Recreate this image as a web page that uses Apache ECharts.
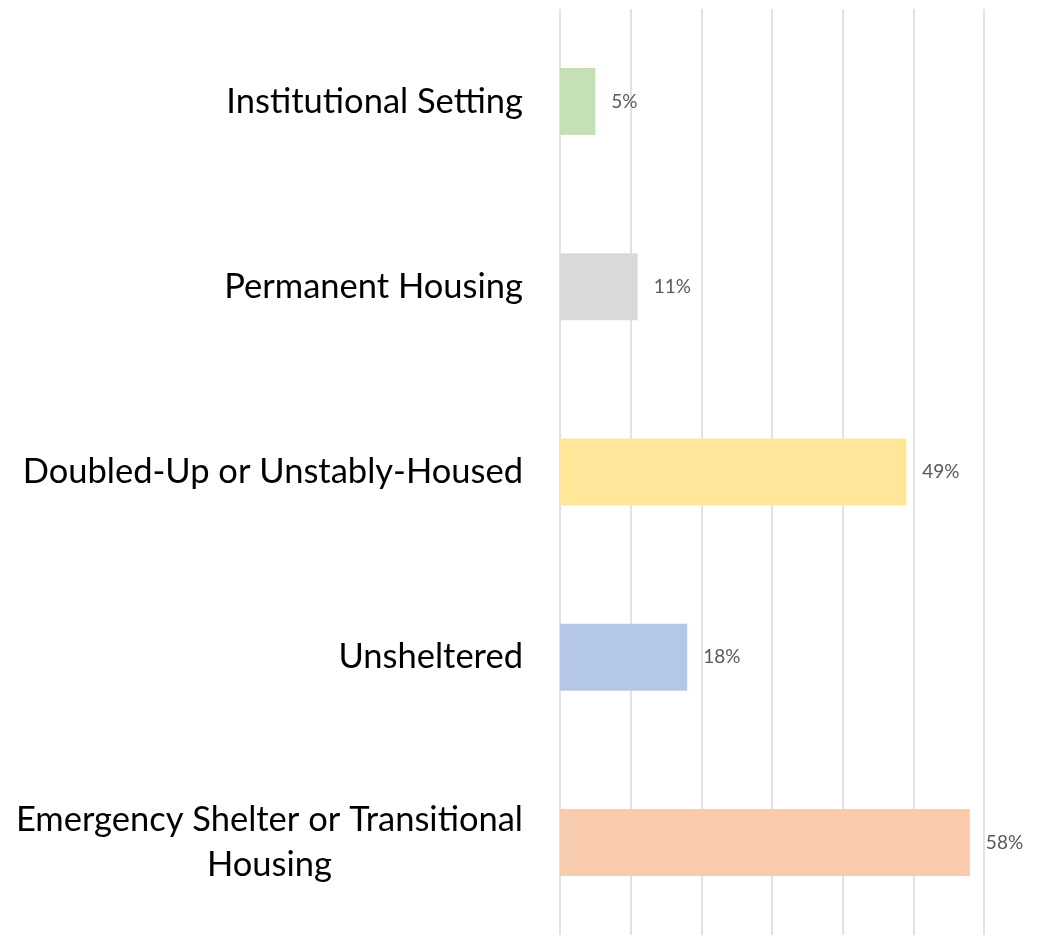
<!DOCTYPE html>
<html>
<head>
<meta charset="utf-8">
<script src="https://cdn.jsdelivr.net/npm/echarts@6/dist/echarts.min.js"></script>
<style>
  html, body { margin: 0; padding: 0; background: #fff; }
  #chart { width: 1040px; height: 935px; }
</style>
</head>
<body>
<div id="chart"></div>
<script>
const categories = [
  'Institutional Setting',
  'Permanent Housing',
  'Doubled-Up or Unstably-Housed',
  'Unsheltered',
  'Emergency Shelter or Transitional Housing'
]
const values = [5, 11, 49, 18, 58]
const barColors = ['#C5E0B4', '#D9D9D9', '#FFE699', '#B4C7E7', '#F8CBAD']

const FONT = 'Lato'

const chart = echarts.init(document.getElementById('chart'))
const option = {
  animation: false,
  grid: { left: 560, right: 56, top: 9, height: 930 },
  xAxis: {
    type: 'value',
    min: 0,
    max: 60,
    interval: 10,
    axisLabel: { show: false },
    axisLine: { show: false },
    axisTick: { show: false },
    splitLine: { lineStyle: { color: '#D9D9D9', width: 1.5 } }
  },
  yAxis: {
    type: 'category',
    inverse: true,
    data: categories,
    axisLine: { show: false },
    axisTick: { show: false },
    axisLabel: {
      margin: 37,
      color: '#000',
      fontFamily: FONT,
      fontSize: 34.5,
      lineHeight: 45,
      formatter: function (v) {
        if (v === 'Emergency Shelter or Transitional Housing') {
          return '{c|Emergency Shelter or Transitional}\n{c|Housing}'
        }
        return v
      },
      rich: {
        c: { align: 'center', fontFamily: FONT, fontSize: 34.5, lineHeight: 45, color: '#000' }
      }
    }
  },
  series: [
    {
      type: 'bar',
      data: values,
      barWidth: 67,
      itemStyle: {
        color: function (p) { return barColors[p.dataIndex] }
      },
      label: {
        show: true,
        position: 'right',
        distance: 16,
        formatter: '{c}%',
        color: '#595959',
        fontFamily: FONT,
        fontSize: 19
      }
    }
  ]
}
option && chart.setOption(option)
</script>
</body>
</html>
